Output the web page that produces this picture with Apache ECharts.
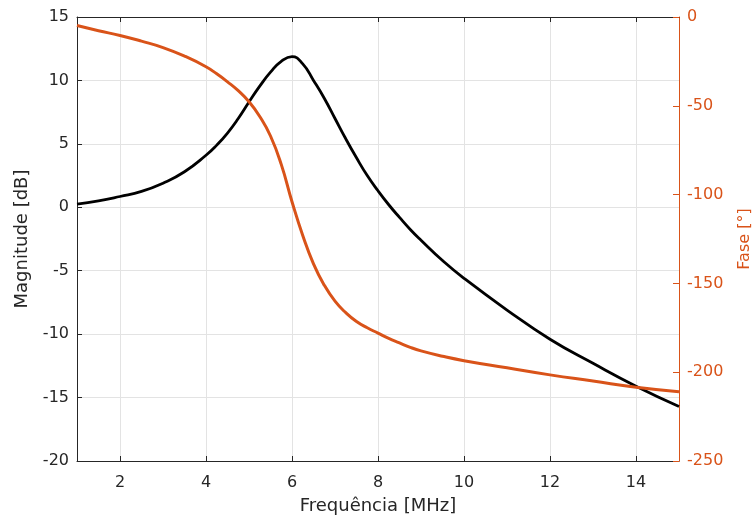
<!DOCTYPE html>
<html><head><meta charset="utf-8">
<script src="https://cdn.jsdelivr.net/npm/echarts@6/dist/echarts.min.js"></script>
<style>html,body{margin:0;padding:0;background:#fff}#c{width:755px;height:518px}</style>
</head><body><div id="c"></div><script>
const freq      = [1, 1.5, 2, 2.5, 3, 3.5, 4, 4.25, 4.5, 4.75, 5, 5.25, 5.5, 5.75, 6, 6.25, 6.5, 6.75, 7, 7.25, 7.5, 7.75, 8, 8.25, 8.5, 8.75, 9, 9.5, 10, 11, 12, 13, 14, 15];
const magnitude = [0.25, 0.5, 0.85, 1.25, 1.9, 2.8, 4.1, 4.9, 5.85, 7.0, 8.3, 9.55, 10.65, 11.5, 11.88, 11.3, 10.0, 8.6, 7.0, 5.4, 3.9, 2.5, 1.3, 0.2, -0.8, -1.75, -2.6, -4.2, -5.6, -8.1, -10.4, -12.3, -14.1, -15.7];
const phase     = [-4.8, -7.7, -10.4, -13.6, -17.2, -22, -28, -32, -36.5, -41.5, -47.7, -56, -67, -83, -104, -123, -139, -151, -160, -166.5, -171.5, -175, -178, -181, -183.5, -186, -188, -191, -193.5, -197.5, -201.5, -205, -208.5, -211];
const xTicks    = [2, 4, 6, 8, 10, 12, 14];

const dark = '#262626', orange = '#D95319', gridCol = '#e3e3e3';
const font = 'DejaVu Sans';
const chart = echarts.init(document.getElementById('c'), null, {renderer: 'canvas'});
chart.setOption({
  animation: false,
  backgroundColor: '#fff',
  grid: {left: 77, right: 76, top: 17, bottom: 57, containLabel: false, outerBoundsMode: 'none'},
  xAxis: [{
    type: 'value', min: 1, max: 15, position: 'bottom',
    name: 'Frequência [MHz]', nameLocation: 'middle', nameGap: 36,
    nameTextStyle: {color: dark, fontSize: 18, fontFamily: font},
    axisLine: {show: true, onZero: false, lineStyle: {color: dark, width: 1}},
    axisTick: {show: true, inside: true, length: 5, customValues: xTicks, lineStyle: {color: dark}},
    axisLabel: {show: true, customValues: xTicks, margin: 14, color: dark, fontSize: 16, fontFamily: font},
    splitLine: {show: true, lineStyle: {color: gridCol, width: 1}}
  }, {
    type: 'value', min: 1, max: 15, position: 'top',
    axisLine: {show: true, onZero: false, lineStyle: {color: dark, width: 1}},
    axisTick: {show: true, inside: true, length: 5, customValues: xTicks, lineStyle: {color: dark}},
    axisLabel: {show: false},
    splitLine: {show: false}
  }],
  yAxis: [{
    type: 'value', min: -20, max: 15, interval: 5, position: 'left',
    name: 'Magnitude [dB]', nameLocation: 'middle', nameGap: 46, nameRotate: 90,
    nameTextStyle: {color: dark, fontSize: 18, fontFamily: font},
    axisLine: {show: true, onZero: false, lineStyle: {color: dark, width: 1}},
    axisTick: {show: true, inside: true, length: 5, lineStyle: {color: dark}},
    axisLabel: {margin: 8, color: dark, fontSize: 16, fontFamily: font},
    splitLine: {show: true, lineStyle: {color: gridCol, width: 1}}
  }, {
    type: 'value', min: -250, max: 0, interval: 50, position: 'right',
    name: 'Fase [°]', nameLocation: 'middle', nameGap: 58, nameRotate: 90,
    nameTextStyle: {color: orange, fontSize: 16, fontFamily: font},
    axisLine: {show: true, onZero: false, lineStyle: {color: orange, width: 1}},
    axisTick: {show: true, inside: true, length: 6, lineStyle: {color: orange}},
    axisLabel: {margin: 8, color: orange, fontSize: 16, fontFamily: font},
    splitLine: {show: false}
  }],
  series: [{
    type: 'line', name: 'Magnitude', xAxisIndex: 0, yAxisIndex: 0,
    data: freq.map((f, i) => [f, magnitude[i]]),
    showSymbol: false, smooth: 0.5, z: 3,
    lineStyle: {color: '#000', width: 2.8}
  }, {
    type: 'line', name: 'Fase', xAxisIndex: 0, yAxisIndex: 1,
    data: freq.map((f, i) => [f, phase[i]]),
    showSymbol: false, smooth: 0.5, z: 4,
    lineStyle: {color: orange, width: 3}
  }]
});
</script></body></html>
